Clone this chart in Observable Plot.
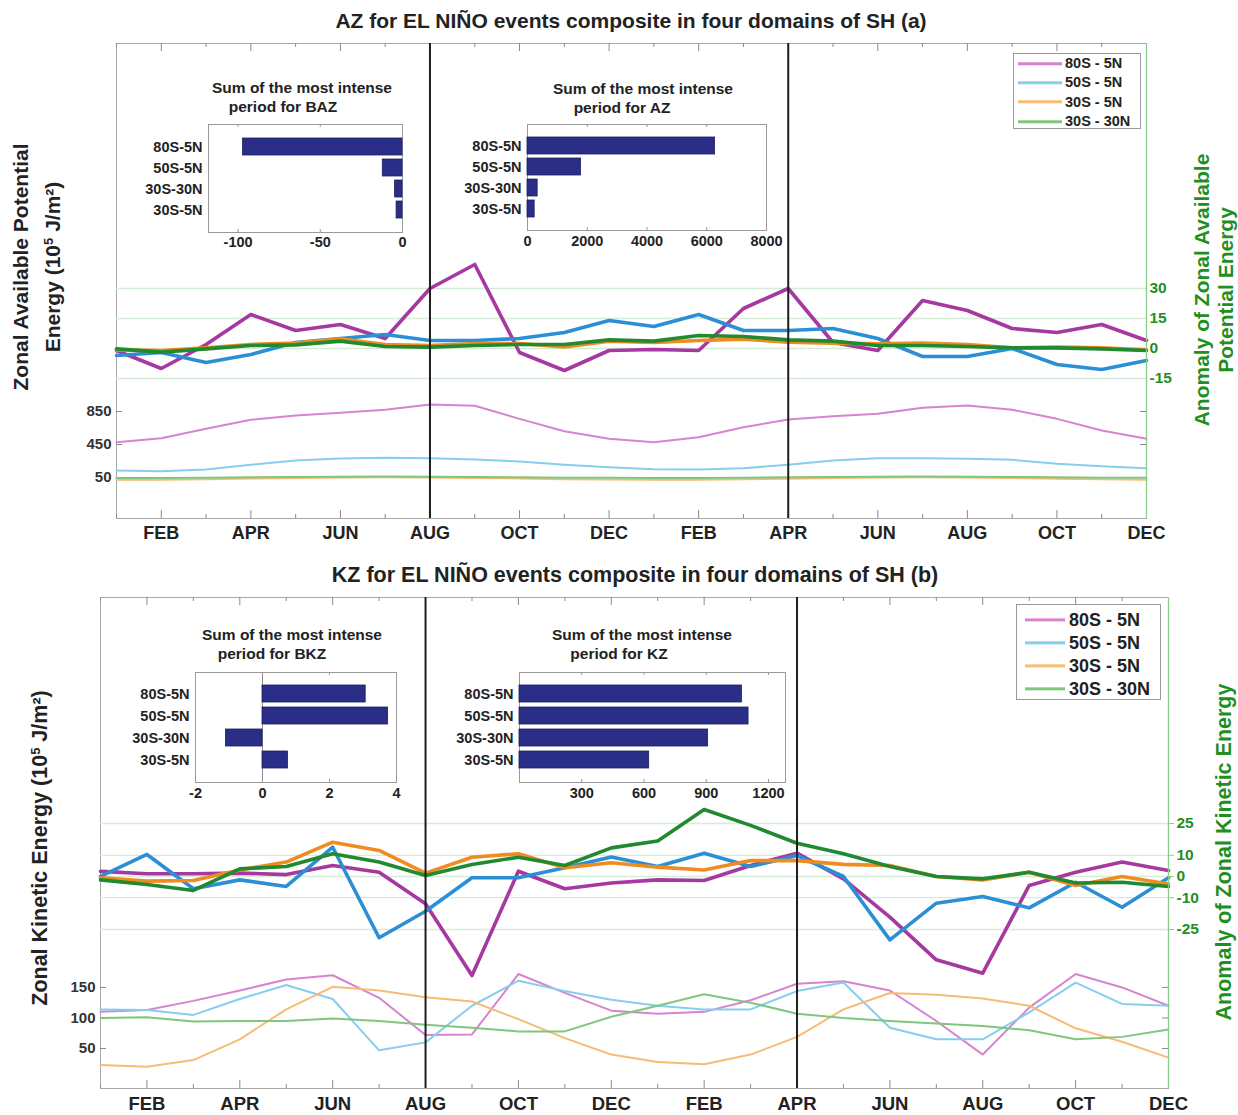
<!DOCTYPE html>
<html>
<head>
<meta charset="utf-8">
<script src="https://cdn.jsdelivr.net/npm/d3@7"></script>
<script src="https://cdn.jsdelivr.net/npm/@observablehq/plot@0.6"></script>
<style>
  body { margin: 0; background: #fff; }
  #fig { position: relative; width: 1238px; height: 1115px; overflow: hidden;
         font-family: "Liberation Sans", Arial, sans-serif; font-weight: bold; color: #222; }
  .t { position: absolute; white-space: nowrap; line-height: 1; }
  .legend { position: absolute; background: #fff; border: 1px solid #9a9a9a; box-sizing: border-box; }
  .legend .row { position: absolute; white-space: nowrap; line-height: 1; }
  .legend .sw { display: inline-block; vertical-align: middle; }
</style>
</head>
<body>
<div id="fig"></div>
<script>
// ---------------- DATA ----------------
const monthLabels = ["JAN","FEB","MAR","APR","MAY","JUN","JUL","AUG","SEP","OCT","NOV","DEC",
                     "JAN","FEB","MAR","APR","MAY","JUN","JUL","AUG","SEP","OCT","NOV","DEC"];
const domainNames = ["80S - 5N", "50S - 5N", "30S - 5N", "30S - 30N"];
const insetCategories = ["80S-5N", "50S-5N", "30S-30N", "30S-5N"];
const eventMonthsA = [7, 15];   // AUG (year 1), APR (year 2)
const eventMonthsB = [7, 15];

// Panel (a): AZ anomaly (right axis)
const azAnom80S5N  = [-1, -10, 2, 17, 9, 12, 5, 30, 42, -2, -11, -1, -0.5, -1, 20, 30, 3, -1, 24, 19, 10, 8, 12, 4];
const azAnom50S5N  = [-3.5, -2, -7, -3, 3, 5, 7, 4, 4, 5, 8, 14, 11, 17, 9, 9, 10, 5, -4, -4, 0, -8, -10.5, -6];
const azAnom30S5N  = [-0.7, -1, 0.3, 2, 2.7, 4.8, 2, 1.5, 2.5, 2.5, 0.8, 3.7, 3, 4, 4.7, 3.2, 2.7, 2.3, 2.7, 2, 0.3, 0.7, 0.3, -0.7];
const azAnom30S30N = [-0.2, -1.8, -0.2, 1.5, 1.8, 3.7, 1, 0.7, 1.5, 2, 2, 4.3, 3.7, 6.5, 6, 4.3, 3.7, 1.5, 1.5, 1, 0.3, 0.3, -0.2, -1];
// Panel (a): AZ climatology (left axis)
const azClim80S5N  = [478, 526, 640, 749, 801, 834, 871, 935, 919, 761, 611, 519, 478, 539, 660, 753, 793, 822, 895, 923, 871, 761, 620, 519];
const azClim50S5N  = [135, 127, 147, 204, 256, 280, 289, 284, 268, 244, 204, 175, 151, 147, 163, 204, 256, 284, 284, 276, 264, 216, 187, 163];
const azClim30S5N  = [22, 22, 30, 38, 45, 50, 52, 50, 45, 38, 30, 25, 22, 22, 28, 36, 44, 50, 52, 50, 44, 36, 28, 22];
const azClim30S30N = [45, 45, 48, 52, 56, 60, 62, 60, 56, 52, 48, 46, 45, 45, 48, 52, 56, 60, 62, 60, 56, 52, 48, 46];
const azAnomTicks = [-15, 0, 15, 30];
const azClimTicks = [50, 450, 850];
// Panel (a) insets
const bazSums = [-97, -12, -4.5, -3.6];
const azSums  = [6280, 1790, 340, 240];
const bazTicks = [-100, -50, 0];
const azTicks  = [0, 2000, 4000, 6000, 8000];

// Panel (b): KZ anomaly (right axis)
const kzAnom80S5N  = [2.4, 1.3, 1.3, 1.6, 0.9, 5.2, 2, -12.9, -46.7, 2.5, -5.8, -3.1, -1.6, -1.9, 5.2, 11, -1.1, -19.2, -39.3, -45.6, -4.2, 2, 6.8, 2.8];
const kzAnom50S5N  = [0, 10.4, -5.8, -1.6, -4.7, 13.8, -28.9, -16.4, -0.6, -0.6, 4.1, 9.2, 4.7, 11, 4.7, 9.9, 0, -29.9, -12.6, -9.4, -14.8, -2.7, -14.5, -0.6];
const kzAnom30S5N  = [-0.6, -2.2, -1.9, 3.1, 6.8, 16.2, 12.3, 1.6, 9.1, 10.7, 4.1, 6.5, 4.4, 3.1, 7.5, 7.5, 5.7, 5.2, 0, -1.6, 2, -4.2, 0, -3.5];
const kzAnom30S30N = [-1.6, -3.8, -6.6, 3.6, 4.7, 10.7, 6.8, 0.5, 5.7, 9.1, 5.2, 13.5, 16.7, 31.6, 24.1, 15.7, 10.7, 4.7, 0, -1.1, 2, -3.1, -2.7, -4.7];
// Panel (b): KZ climatology (left axis)
const kzClim80S5N  = [110, 113, 128, 145, 163, 170, 133, 72, 73, 172, 141, 112, 107, 110, 129, 156, 160, 145, 95, 40, 117, 172, 150, 120];
const kzClim50S5N  = [114, 113, 105, 131, 154, 131, 47, 60, 120, 161, 144, 130, 120, 114, 114, 144, 158, 84, 65, 65, 109, 158, 123, 120];
const kzClim30S5N  = [23, 20, 31, 65, 114, 151, 145, 134, 127, 98, 67, 40, 28, 24, 40, 69, 114, 141, 138, 132, 120, 83, 61, 35];
const kzClim30S30N = [100, 101, 94, 95, 95, 99, 95, 89, 84, 78, 78, 102, 120, 139, 125, 107, 100, 95, 91, 87, 80, 65, 69, 81];
const kzAnomTicks = [-25, -10, 0, 10, 25];
const kzClimTicks = [50, 100, 150];
// Panel (b) insets
const bkzSums = [3.08, 3.75, -1.09, 0.76];
const kzSums  = [1072, 1104, 909, 625];
const bkzTicks = [-2, 0, 2, 4];
const kzTicks  = [300, 600, 900, 1200];

// ---------------- STYLE ----------------
const FONT = '"Liberation Sans", Arial, sans-serif';
const thickColor = {"80S - 5N": "#a5399f", "50S - 5N": "#2b8fd6", "30S - 5N": "#f08b20", "30S - 30N": "#21892f"};
const thinColor  = {"80S - 5N": "#d683d0", "50S - 5N": "#86cdef", "30S - 5N": "#f6bb74", "30S - 30N": "#7fc67f"};
const GREEN = "#1f8f1f";
const BAR = "#2b2e87";

const fig = document.getElementById("fig");
function put(node, left, top, w, h) {
  const d = document.createElement("div");
  d.style.cssText = `position:absolute;left:${left}px;top:${top}px;width:${w}px;height:${h}px;`;
  d.appendChild(node);
  fig.appendChild(d);
}
function label(html, css) {
  const d = document.createElement("div");
  d.className = "t";
  d.innerHTML = html;
  d.style.cssText += css;
  fig.appendChild(d);
  return d;
}

// ---------------- MAIN PANELS ----------------
function mainPanel(cfg) {
  const W = 1238;
  const {top, height, mL, mR, mT, mB} = cfg;
  const fw = W - mL - mR, fh = height - mT - mB;
  const idx = d3.range(monthLabels.length);
  const odd = idx.filter(i => i % 2 === 1), even = idx.filter(i => i % 2 === 0);
  const style = {background: "transparent", fontFamily: FONT, overflow: "visible"};
  const geom = {width: W, height, marginLeft: mL, marginRight: mR, marginTop: mT, marginBottom: mB};

  const clim = Plot.plot({
    ...geom, style,
    x: {domain: [0, idx.length - 1]},
    y: {domain: cfg.climDomain},
    marks: [
      Plot.frame({stroke: "#a8a8a8"}),
      Plot.tickX(odd,  {x: d => d, insetTop: fh - 8, stroke: "#8a8a8a"}),
      Plot.tickX(even, {x: d => d, insetTop: fh - 4, stroke: "#8a8a8a"}),
      Plot.tickX(odd,  {x: d => d, insetBottom: fh - 8, stroke: "#8a8a8a"}),
      Plot.tickX(even, {x: d => d, insetBottom: fh - 4, stroke: "#8a8a8a"}),
      Plot.tickY(cfg.climTicks, {y: d => d, insetRight: fw - 6, stroke: "#8a8a8a"}),
      Plot.tickY(cfg.climTicks, {y: d => d, insetLeft: fw - 6, stroke: "#8a8a8a"}),
      ...cfg.clim.map(s => Plot.line(idx, {x: i => i, y: i => s.values[i], stroke: thinColor[s.name], strokeWidth: 2})),
      Plot.axisX({ticks: odd, tickFormat: i => monthLabels[i], tickSize: 0, tickPadding: cfg.xPad,
                  fontSize: cfg.xFont, fontWeight: "bold", fill: "#222", label: null}),
      Plot.axisY({ticks: cfg.climTicks, tickFormat: d => `${d}`, tickSize: 0, tickPadding: 5,
                  fontSize: 15, fontWeight: "bold", fill: "#333", label: null})
    ]
  });
  put(clim, 0, top, W, height);

  const anom = Plot.plot({
    ...geom, style,
    x: {domain: [0, idx.length - 1], axis: null},
    y: {domain: cfg.anomDomain},
    marks: [
      Plot.ruleY(cfg.anomTicks, {stroke: "#d6ecd6", strokeWidth: 1.3}),
      ...cfg.anom.map(s => Plot.line(idx, {x: i => i, y: i => s.values[i], stroke: thickColor[s.name], strokeWidth: 3.6})),
      Plot.ruleX(cfg.events, {stroke: "#1e1e1e", strokeWidth: 2}),
      Plot.ruleX([idx.length - 1], {stroke: "#8ccc8c", strokeWidth: 1.3}),
      Plot.axisY({anchor: "right", ticks: cfg.anomTicks, tickFormat: d => `${d}`, tickSize: cfg.rTick,
                  stroke: "#8ccc8c", tickPadding: 3, fill: GREEN, fontSize: 15.5, fontWeight: "bold", label: null})
    ]
  });
  put(anom, 0, top, W, height);
}

function series(names, arrays) { return names.map((n, k) => ({name: n, values: arrays[k]})); }

mainPanel({
  top: 0, height: 560, mL: 116, mR: 92, mT: 43, mB: 42,
  anomDomain: [-85, 152.5], climDomain: [-447, 5311],
  anomTicks: azAnomTicks, climTicks: azClimTicks, events: eventMonthsA,
  xPad: 8, xFont: 18, rTick: 0,
  anom: series(domainNames, [azAnom80S5N, azAnom50S5N, azAnom30S5N, azAnom30S30N]),
  clim: series(domainNames, [azClim80S5N, azClim50S5N, azClim30S5N, azClim30S30N])
});
mainPanel({
  top: 560, height: 555, mL: 100, mR: 70, mT: 37, mB: 27,
  anomDomain: [-100, 131.6], climDomain: [-15.6, 789],
  anomTicks: kzAnomTicks, climTicks: kzClimTicks, events: eventMonthsB,
  xPad: 8, xFont: 18.5, rTick: 5,
  anom: series(domainNames, [kzAnom80S5N, kzAnom50S5N, kzAnom30S5N, kzAnom30S30N]),
  clim: series(domainNames, [kzClim80S5N, kzClim50S5N, kzClim30S5N, kzClim30S30N])
});

// ---------------- INSETS ----------------
function inset(cfg) {
  const {left, top, width, height, f} = cfg;
  const rows = insetCategories.map((c, k) => ({cat: c, value: cfg.values[k]}));
  const fh = f.b - f.t;
  const p = Plot.plot({
    width, height,
    marginLeft: f.l - left, marginRight: left + width - f.r,
    marginTop: f.t - top, marginBottom: top + height - f.b,
    style: {background: "transparent", fontFamily: FONT, overflow: "visible"},
    x: {domain: cfg.xDomain},
    y: {domain: insetCategories, paddingInner: cfg.pi, paddingOuter: cfg.po},
    marks: [
      Plot.frame({fill: "white", stroke: "#9a9a9a"}),
      cfg.zero ? Plot.ruleX([0], {stroke: "#8a8a8a"}) : null,
      Plot.tickX(cfg.ticks, {x: d => d, insetTop: fh - 3, stroke: "#9a9a9a"}),
      Plot.tickX(cfg.ticks, {x: d => d, insetBottom: fh - 3, stroke: "#9a9a9a"}),
      Plot.barX(rows, {x: "value", y: "cat", fill: BAR, stroke: "#1c1f60", strokeWidth: 0.8}),
      Plot.axisX({ticks: cfg.ticks, tickFormat: d => `${d}`, tickSize: 0, tickPadding: cfg.xPad,
                  fontSize: 14.5, fontWeight: "bold", fill: "#222", label: null}),
      Plot.axisY({tickSize: 0, tickPadding: 6, fontSize: 14.5, fontWeight: "bold", fill: "#222", label: null})
    ]
  });
  put(p, left, top, width, height);
  // two-line title
  label("Sum of the most intense", `left:${cfg.t1x}px;top:${cfg.t1y}px;transform:translate(-50%,-50%);font-size:15.5px;`);
  label(cfg.t2, `left:${cfg.t2x}px;top:${cfg.t1y + 19}px;transform:translate(-50%,-50%);font-size:15.5px;`);
}

inset({left: 110, top: 110, width: 310, height: 150, f: {l: 208, r: 402, t: 124, b: 232},
       values: bazSums, xDomain: [-118, 0], ticks: bazTicks, pi: 0.18, po: 0.545, xPad: 4,
       t1x: 302, t1y: 88, t2x: 283, t2: "period for BAZ"});
inset({left: 440, top: 110, width: 345, height: 150, f: {l: 527, r: 766, t: 124, b: 230},
       values: azSums, xDomain: [0, 8000], ticks: azTicks, pi: 0.18, po: 0.52, xPad: 5,
       t1x: 643, t1y: 89, t2x: 622, t2: "period for AZ"});
inset({left: 100, top: 660, width: 320, height: 150, f: {l: 195, r: 396, t: 672, b: 782},
       values: bkzSums, xDomain: [-2, 4], ticks: bkzTicks, pi: 0.217, po: 0.5, xPad: 5, zero: true,
       t1x: 292, t1y: 635, t2x: 272, t2: "period for BKZ"});
inset({left: 440, top: 660, width: 350, height: 150, f: {l: 519, r: 785, t: 672, b: 782},
       values: kzSums, xDomain: [0, 1282], ticks: kzTicks, pi: 0.217, po: 0.5, xPad: 5,
       t1x: 642, t1y: 635, t2x: 619, t2: "period for KZ"});

// ---------------- TITLES & AXIS LABELS ----------------
label("AZ for EL NIÑO events composite in four domains of SH (a)",
      "left:631px;top:20px;transform:translate(-50%,-50%);font-size:21px;");
label("KZ for EL NIÑO events composite in four domains of SH (b)",
      "left:635px;top:576px;transform:translate(-50%,-50%);font-size:21.5px;");

label("Zonal Available Potential<br>Energy (10<sup style='font-size:13px;vertical-align:7px'>5</sup> J/m²)",
      "left:37px;top:267px;transform:translate(-50%,-50%) rotate(-90deg);font-size:21px;text-align:center;line-height:28px;");
label("Anomaly of Zonal Available<br>Potential Energy",
      `left:1214px;top:290px;transform:translate(-50%,-50%) rotate(-90deg);font-size:21px;text-align:center;line-height:24px;color:${GREEN};`);
label("Zonal Kinetic Energy (10<sup style='font-size:13px;vertical-align:7px'>5</sup> J/m²)",
      "left:40px;top:848px;transform:translate(-50%,-50%) rotate(-90deg);font-size:21.5px;");
label("Anomaly of Zonal Kinetic Energy",
      `left:1225px;top:852px;transform:translate(-50%,-50%) rotate(-90deg);font-size:21.5px;color:${GREEN};`);

// ---------------- LEGENDS ----------------
function legend(cfg) {
  const box = document.createElement("div");
  box.className = "legend";
  box.style.cssText += `left:${cfg.left}px;top:${cfg.top}px;width:${cfg.w}px;height:${cfg.h}px;`;
  domainNames.forEach((n, k) => {
    const r = document.createElement("div");
    r.className = "row";
    r.style.cssText = `left:${cfg.padL}px;top:${cfg.y0 + k * cfg.dy}px;transform:translateY(-50%);font-size:${cfg.fs}px;`;
    r.innerHTML = `<span class="sw" style="width:${cfg.sw}px;border-top:3px solid ${thinColor[n]};margin-right:${cfg.gap}px"></span><span style="vertical-align:middle">${n}</span>`;
    box.appendChild(r);
  });
  fig.appendChild(box);
}
legend({left: 1013, top: 53, w: 128, h: 76, padL: 4, y0: 9, dy: 19.3, sw: 44, gap: 3, fs: 14.5});
legend({left: 1016, top: 604, w: 145, h: 96, padL: 8, y0: 14, dy: 23, sw: 40, gap: 4, fs: 18});
</script>
</body>
</html>
